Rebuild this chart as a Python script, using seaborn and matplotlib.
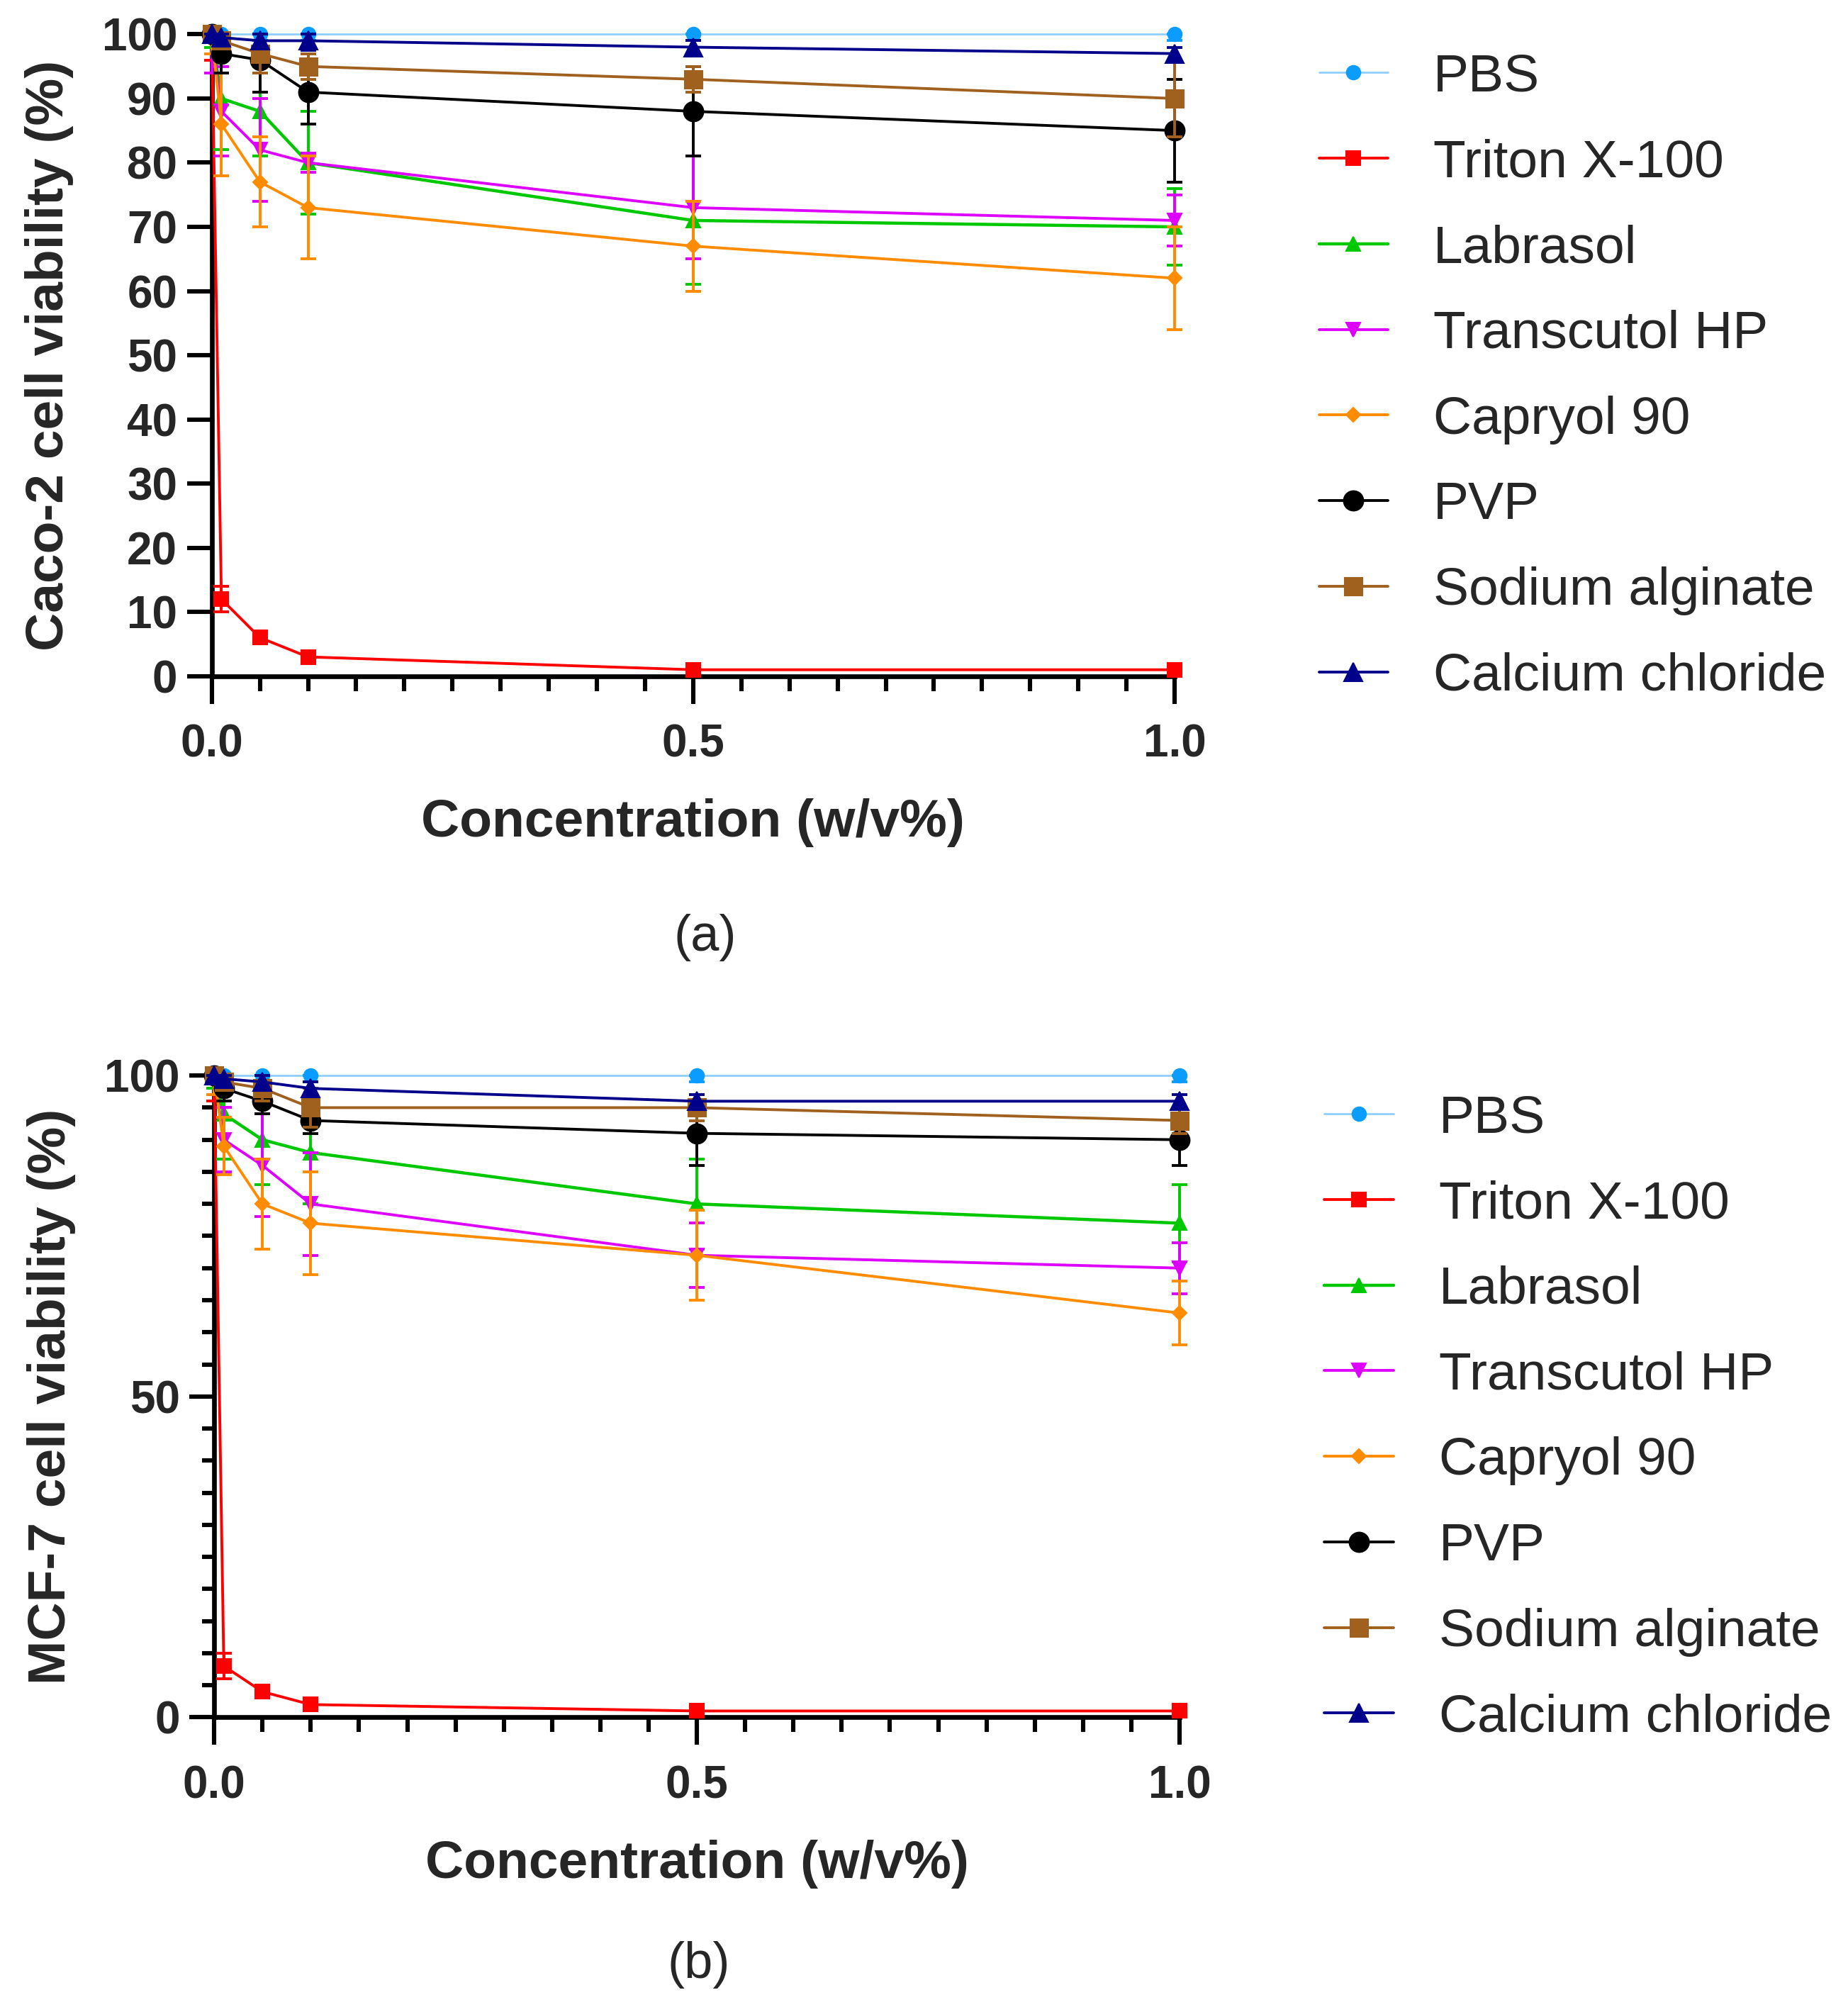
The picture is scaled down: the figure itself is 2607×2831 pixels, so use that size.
import pandas as pd
import seaborn as sns
import matplotlib.pyplot as plt
from matplotlib.ticker import MultipleLocator

# concentrations (w/v%)
conc = [0, 0.01, 0.05, 0.1, 0.5, 1.0]
names = ["PBS", "Triton X-100", "Labrasol", "Transcutol HP", "Capryol 90",
         "PVP", "Sodium alginate", "Calcium chloride"]

# ---- (a) Caco-2 viability, mean and sd ----
caco_pbs = [100, 100, 100, 100, 100, 100]
caco_pbs_sd = [0.5, 3, 1, 1, 1, 1]
caco_triton = [100, 12, 6, 3, 1, 1]
caco_triton_sd = [4, 2, 1, 0.5, 0.3, 0.3]
caco_labrasol = [100, 90, 88, 80, 71, 70]
caco_labrasol_sd = [2, 8, 7, 8, 10, 6]
caco_transcutol = [100, 88, 82, 80, 73, 71]
caco_transcutol_sd = [6, 7, 8, 1.5, 8, 4]
caco_capryol = [100, 86, 77, 73, 67, 62]
caco_capryol_sd = [3, 8, 7, 8, 7, 8]
caco_pvp = [100, 97, 96, 91, 88, 85]
caco_pvp_sd = [1, 3, 5, 5, 7, 8]
caco_alginate = [100, 99, 97, 95, 93, 90]
caco_alginate_sd = [1, 1, 3, 2, 2, 6]
caco_cacl2 = [100, 99.5, 99, 99, 98, 97]
caco_cacl2_sd = [1, 1, 1, 1.5, 1, 1]

# ---- (b) MCF-7 viability, mean and sd ----
mcf_pbs = [100, 100, 100, 100, 100, 100]
mcf_pbs_sd = [0.5, 3, 1, 1, 1, 1]
mcf_triton = [100, 8, 4, 2, 1, 1]
mcf_triton_sd = [4, 2, 0.5, 0.5, 0.3, 0.3]
mcf_labrasol = [100, 94, 90, 88, 80, 77]
mcf_labrasol_sd = [2, 7, 7, 8, 7, 6]
mcf_transcutol = [100, 90, 86, 80, 72, 70]
mcf_transcutol_sd = [3, 5, 8, 8, 5, 4]
mcf_capryol = [100, 89, 80, 77, 72, 63]
mcf_capryol_sd = [3, 4.5, 7, 8, 7, 5]
mcf_pvp = [100, 98, 96, 93, 91, 90]
mcf_pvp_sd = [1, 2, 2, 2, 5, 4]
mcf_alginate = [100, 99, 98, 95, 95, 93]
mcf_alginate_sd = [1, 1, 2, 3, 2, 2]
mcf_cacl2 = [100, 99.5, 99, 98, 96, 96]
mcf_cacl2_sd = [1, 1, 1, 1, 1, 1]

caco_means = [caco_pbs, caco_triton, caco_labrasol, caco_transcutol,
              caco_capryol, caco_pvp, caco_alginate, caco_cacl2]
caco_sds = [caco_pbs_sd, caco_triton_sd, caco_labrasol_sd, caco_transcutol_sd,
            caco_capryol_sd, caco_pvp_sd, caco_alginate_sd, caco_cacl2_sd]
mcf_means = [mcf_pbs, mcf_triton, mcf_labrasol, mcf_transcutol,
             mcf_capryol, mcf_pvp, mcf_alginate, mcf_cacl2]
mcf_sds = [mcf_pbs_sd, mcf_triton_sd, mcf_labrasol_sd, mcf_transcutol_sd,
           mcf_capryol_sd, mcf_pvp_sd, mcf_alginate_sd, mcf_cacl2_sd]

# style per series: line colour, marker colour, marker, marker size, line width
colors = ["#8ECFFF", "#FF0000", "#00C800", "#DD00FF", "#FF8C00",
          "#000000", "#A0601E", "#00008B"]
mcolors = ["#0A9DFF", "#FF0000", "#00C800", "#DD00FF", "#FF8C00",
           "#000000", "#A0601E", "#00008B"]
markers = ["o", "s", "^", "v", "D", "o", "s", "^"]
msizes = [7, 7, 7.5, 7.5, 5, 10, 9, 9.5]
lwidths = [1.0, 1.4, 1.6, 1.4, 1.4, 1.4, 1.4, 1.4]

sns.set_theme(style="ticks")
plt.rcParams["font.family"] = ["Liberation Sans", "DejaVu Sans"]


def to_frame(means, sds):
    rows = []
    for name, m, s in zip(names, means, sds):
        for c, v, e in zip(conc, m, s):
            rows.append({"series": name, "conc": c, "viability": v, "sd": e})
    return pd.DataFrame(rows)


def draw_panel(ax, df, ylabel, yticks, yminor):
    # draw reverse order so PBS ends up on top
    for i in reversed(range(len(names))):
        sub = df[df["series"] == names[i]]
        sns.lineplot(data=sub, x="conc", y="viability", ax=ax,
                     color=colors[i], linewidth=lwidths[i], marker=markers[i],
                     markersize=msizes[i], markerfacecolor=mcolors[i],
                     markeredgecolor=mcolors[i], errorbar=None,
                     label=names[i], clip_on=False, zorder=3 + i)
        # the axis stops at 100, so the upper whisker is cut there
        upper = [min(e, 100 - v) for v, e in zip(sub["viability"], sub["sd"])]
        ax.errorbar(sub["conc"], sub["viability"], yerr=[sub["sd"], upper],
                    fmt="none", ecolor=mcolors[i], elinewidth=1.4, capsize=4,
                    capthick=1.4, clip_on=False, zorder=3 + i)

    ax.set_xlim(0, 1.0)
    ax.set_ylim(0, 100)
    ax.set_xticks([0, 0.5, 1.0])
    ax.set_xticklabels(["0.0", "0.5", "1.0"], fontweight="bold", fontsize=23)
    ax.set_yticks(yticks)
    ax.set_yticklabels([str(t) for t in yticks], fontweight="bold", fontsize=23)
    ax.xaxis.set_minor_locator(MultipleLocator(0.05))
    if yminor:
        ax.yaxis.set_minor_locator(MultipleLocator(yminor))
    ax.tick_params(axis="x", which="major", length=14, width=2.2, pad=10, color="black")
    ax.tick_params(axis="x", which="minor", length=7.5, width=2.2, color="black")
    ax.tick_params(axis="y", which="major", length=12.5, width=2.2, pad=5, color="black")
    ax.tick_params(axis="y", which="minor", length=6, width=2.2, color="black")
    sns.despine(ax=ax)
    for sp in ["left", "bottom"]:
        ax.spines[sp].set_linewidth(2.4)
        ax.spines[sp].set_color("black")
        ax.spines[sp].set_zorder(2)

    ax.set_xlabel("Concentration (w/v%)", fontsize=27, fontweight="bold")
    ax.set_ylabel(ylabel, fontsize=27, fontweight="bold")
    ax.xaxis.set_label_coords(0.5, -0.19)
    ax.yaxis.set_label_coords(-0.1435, 0.5)

    h, l = ax.get_legend_handles_labels()
    lookup = dict(zip(l, h))
    ax.legend([lookup[n] for n in names], names, loc="center left",
              bbox_to_anchor=(1.15, 0.466), frameon=False, fontsize=27,
              handlelength=1.3, handletextpad=0.85, labelspacing=0.69,
              borderaxespad=0, borderpad=0)


fig = plt.figure(figsize=(13.035, 14.155), dpi=200)
ax_a = fig.add_axes([0.1146, 0.6631, 0.5210, 0.3198])
ax_b = fig.add_axes([0.1159, 0.1443, 0.5224, 0.3198])

draw_panel(ax_a, to_frame(caco_means, caco_sds), "Caco-2 cell viability (%)",
           list(range(0, 101, 10)), None)
draw_panel(ax_b, to_frame(mcf_means, mcf_sds), "MCF-7 cell viability (%)",
           [0, 50, 100], 5)

fig.text(0.3816, 0.5327, "(a)", ha="center", va="center", fontsize=26)
fig.text(0.378, 0.021, "(b)", ha="center", va="center", fontsize=26)

fig.savefig("out.png", dpi=200, facecolor="white")
